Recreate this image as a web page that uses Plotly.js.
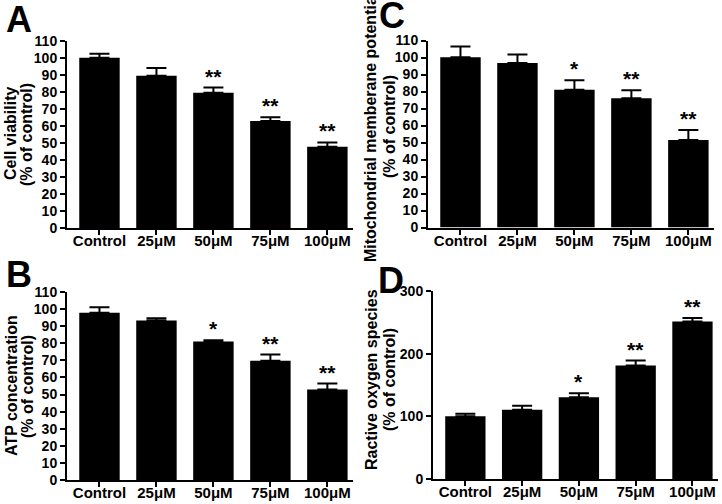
<!DOCTYPE html>
<html>
<head>
<meta charset="utf-8">
<script src="https://cdn.plot.ly/plotly-3.0.1.min.js"></script>
<style>html,body{margin:0;padding:0;background:#fff;}#chart{width:722px;height:504px;}</style>
</head>
<body>
<div id="chart"></div>
<script>
const categories = ['Control', '25μM', '50μM', '75μM', '100μM'];

const cellViability = [100.2, 89.5, 79.6, 63, 47.8];
const cellViabilityErr = [2.3, 4.6, 3, 2.2, 2.5];
const cellViabilitySig = ['', '', '**', '**', '**'];

const atpConc = [97.8, 93.3, 81, 69.8, 53];
const atpConcErr = [3.3, 1.4, 0.7, 3.6, 3.4];
const atpConcSig = ['', '', '*', '**', '**'];

const mmp = [100.2, 96.7, 81, 76.1, 51.5];
const mmpErr = [6.3, 5, 5.6, 4.6, 5.8];
const mmpSig = ['', '', '*', '**', '**'];

const ros = [100, 110.5, 130.5, 181, 251.5];
const rosErr = [4, 6.5, 6.5, 8, 5.5];
const rosSig = ['', '', '*', '**', '**'];

const W = 722, H = 504;
const FONT = 'Liberation Sans, Arial, sans-serif';
const px = v => v / W;
const py = v => 1 - v / H;

const panels = [
  {key: '', vals: cellViability, err: cellViabilityErr, sig: cellViabilitySig, xd: [67, 353], yd: [228, 41], yr: [0, 110], dt: 10,
   letter: 'A', lx: 19, ly: 20, t1: 'Cell viability', t2: '(% of control)', t1x: 11, t2x: 27, ty: 134},
  {key: '2', vals: atpConc, err: atpConcErr, sig: atpConcSig, xd: [67, 353], yd: [480, 292], yr: [0, 110], dt: 10,
   letter: 'B', lx: 19, ly: 274, t1: 'ATP concentration', t2: '(% of control)', t1x: 11, t2x: 27, ty: 386},
  {key: '3', vals: mmp, err: mmpErr, sig: mmpSig, xd: [428, 714], yd: [227.5, 40.5], yr: [0, 110], dt: 10,
   letter: 'C', lx: 392, ly: 15, t1: 'Mitochondrial memberane potential', t2: '(% of control)', t1x: 370, t2x: 389, ty: 127},
  {key: '4', vals: ros, err: rosErr, sig: rosSig, xd: [433, 718], yd: [479, 291], yr: [0, 300], dt: 100,
   letter: 'D', lx: 391, ly: 280, t1: 'Ractive oxygen species', t2: '(% of control)', t1x: 371, t2x: 389, ty: 380}
];

const traces = [];
const annotations = [];
const layout = {
  width: W, height: H,
  margin: {l: 0, r: 0, t: 0, b: 0},
  paper_bgcolor: '#fff', plot_bgcolor: '#fff',
  showlegend: false,
  font: {family: FONT, color: '#000'},
  annotations: annotations
};

panels.forEach(p => {
  const xa = 'x' + p.key, ya = 'y' + p.key;
  traces.push({
    type: 'bar', x: categories, y: p.vals, xaxis: xa, yaxis: ya,
    marker: {color: '#000', line: {width: 0}}, width: 0.71,
    error_y: {type: 'data', array: p.err, arrayminus: p.err.map(() => 0), symmetric: false,
              color: '#000', thickness: 2, width: 10},
    hoverinfo: 'skip'
  });
  const axCommon = {
    showline: true, linewidth: 2, linecolor: '#000', showgrid: false, zeroline: false,
    ticks: 'outside', ticklen: 5, tickwidth: 2, tickcolor: '#000', fixedrange: true
  };
  layout['xaxis' + p.key] = Object.assign({}, axCommon, {
    domain: [px(p.xd[0]), px(p.xd[1])], anchor: ya, type: 'category',
    range: [-0.57, 4.45], ticklabelstandoff: -7,
    tickfont: {family: FONT, size: 15, weight: 'bold', color: '#000'}
  });
  layout['yaxis' + p.key] = Object.assign({}, axCommon, {
    domain: [py(p.yd[0]), py(p.yd[1])], anchor: xa, range: p.yr, dtick: p.dt, tick0: 0,
    tickfont: {family: FONT, size: 14, weight: 'bold', color: '#000'}
  });
  categories.forEach((c, i) => {
    if (p.sig[i]) {
      annotations.push({xref: xa, yref: ya, x: c, y: p.vals[i] + p.err[i], text: p.sig[i],
        showarrow: false, yanchor: 'bottom', yshift: -2,
        font: {family: FONT, size: 21, weight: 'bold', color: '#000'}});
    }
  });
  annotations.push({xref: 'paper', yref: 'paper', x: px(p.lx), y: py(p.ly), text: p.letter,
    showarrow: false, xanchor: 'center', yanchor: 'middle',
    font: {family: FONT, size: 36, weight: 'bold', color: '#000'}});
  annotations.push({xref: 'paper', yref: 'paper', x: px(p.t1x), y: py(p.ty), text: p.t1, textangle: -90,
    showarrow: false, xanchor: 'center', yanchor: 'middle',
    font: {family: FONT, size: 16, weight: 'bold', color: '#000'}});
  annotations.push({xref: 'paper', yref: 'paper', x: px(p.t2x), y: py(p.ty), text: p.t2, textangle: -90,
    showarrow: false, xanchor: 'center', yanchor: 'middle',
    font: {family: FONT, size: 16, weight: 'bold', color: '#000'}});
});

Plotly.newPlot('chart', traces, layout, {staticPlot: true, displayModeBar: false});
</script>
</body>
</html>
